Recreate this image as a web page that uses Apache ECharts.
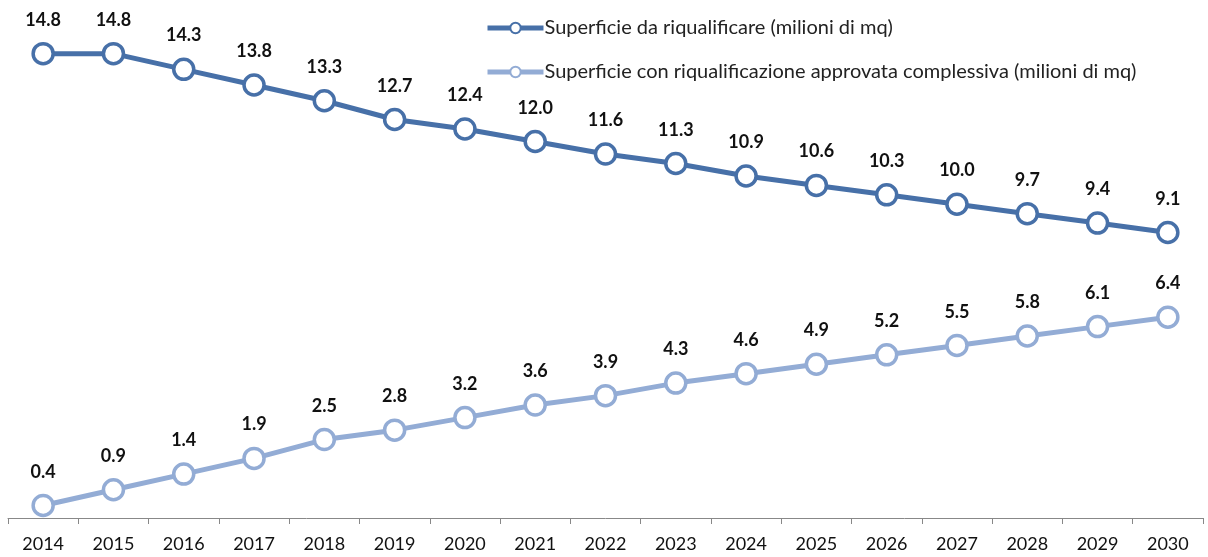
<!DOCTYPE html>
<html>
<head>
  <meta charset="utf-8">
  <title>Superficie</title>
  <script src="https://cdn.jsdelivr.net/npm/echarts@6/dist/echarts.min.js"></script>
</head>
<body style="margin:0">
  <div id="main" style="width:1208px;height:557px;"></div>
  <script type="text/javascript">
    var years = ['2014','2015','2016','2017','2018','2019','2020','2021','2022','2023','2024','2025','2026','2027','2028','2029','2030'];
    var daRiqualificare = [14.8,14.8,14.3,13.8,13.3,12.7,12.4,12.0,11.6,11.3,10.9,10.6,10.3,10.0,9.7,9.4,9.1];
    var approvata = [0.4,0.9,1.4,1.9,2.5,2.8,3.2,3.6,3.9,4.3,4.6,4.9,5.2,5.5,5.8,6.1,6.4];
    var nomi = ['Superficie da riqualificare (milioni di mq)', 'Superficie con riqualificazione approvata complessiva (milioni di mq)'];

    var myChart = echarts.init(document.getElementById('main'));

    function serie(name, data, color) {
      return {
        name: name,
        type: 'line',
        data: data,
        symbol: 'circle',
        symbolSize: 20,
        lineStyle: { color: color, width: 5 },
        itemStyle: { color: '#fff', borderColor: color, borderWidth: 3.5 },
        label: {
          show: true,
          position: 'top',
          distance: 13,
          formatter: function (p) { return p.value.toFixed(1); },
          fontFamily: 'Lato',
          fontWeight: 'bold',
          fontSize: 18,
          color: '#111'
        },
        emphasis: { disabled: true },
        animation: false
      };
    }

    var option = {
      textStyle: { fontFamily: 'Lato' },
      grid: { left: 8, right: 5, top: 16, bottom: 39 },
      legend: {
        orient: 'vertical',
        left: 480,
        top: 13,
        itemGap: 24,
        itemWidth: 56,
        itemHeight: 13,
        lineStyle: { width: 5 },
        textStyle: { fontSize: 20, color: '#222', fontFamily: 'Lato', padding: [0, 0, 0, -4] },
        data: nomi
      },
      xAxis: {
        type: 'category',
        data: years,
        boundaryGap: true,
        axisLine: { lineStyle: { color: '#888', width: 1 } },
        axisTick: { show: true, length: 6, lineStyle: { color: '#888' } },
        axisLabel: { fontSize: 18, color: '#111', margin: 17, fontFamily: 'Lato' }
      },
      yAxis: {
        type: 'value',
        min: 0,
        max: 16,
        show: false,
        splitLine: { show: false }
      },
      series: [
        serie(nomi[0], daRiqualificare, '#4770A8'),
        serie(nomi[1], approvata, '#93ACD5')
      ]
    };

    myChart.setOption(option);
  </script>
</body>
</html>
